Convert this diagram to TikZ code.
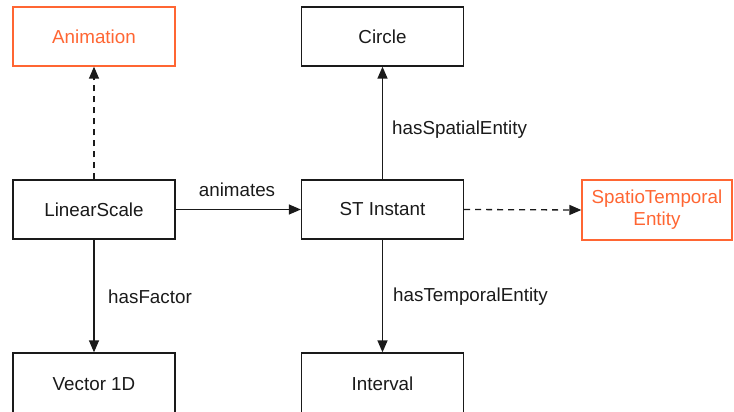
\documentclass[tikz,border=0pt]{standalone}
\usepackage{fontspec}
\setmainfont{Liberation Sans}
\usetikzlibrary{arrows.meta}
\definecolor{accent}{HTML}{FF6633}
\definecolor{ink}{HTML}{1A1A1A}
\tikzset{
  box/.style={draw=ink, fill=white, line width=1.3pt, minimum width=162pt,
    minimum height=59pt, inner sep=0pt, text=ink, font=\fontsize{18.8}{22}\selectfont,
    align=center},
  hlbox/.style={box, draw=accent, text=accent},
  link/.style={draw=ink, line width=1.3pt, -{Triangle[length=12pt,width=10pt]}},
  dashlink/.style={link, dash pattern=on 6pt off 5pt},
  lbl/.style={text=ink, font=\fontsize{18.8}{22}\selectfont, inner sep=0pt}
}
\begin{document}
\begin{tikzpicture}[x=1pt, y=-1pt]
  \useasboundingbox (0,0) rectangle (734,412);
  % class boxes
  \node[hlbox] (anim) at (94,36.5) {Animation};
  \node[box] (circle) at (382.5,36.5) {Circle};
  \node[box] (scale) at (94,209.5) {LinearScale};
  \node[box] (inst) at (382.5,209.5) {ST Instant};
  \node[hlbox, minimum width=150pt, minimum height=60pt] (ste) at (657,210) {SpatioTemporal\\Entity};
  \node[box, minimum height=62pt] (vec) at (94,384) {Vector 1D};
  \node[box, minimum height=62pt] (intv) at (382.5,384) {Interval};
  % relations
  \draw[dashlink] (scale.north) -- (anim.south);
  \draw[link] (inst.north) -- (circle.south);
  \draw[link] (scale.east) -- (inst.west);
  \draw[dashlink] (inst.east) -- (ste.west);
  \draw[link] (scale.south) -- (vec.north);
  \draw[link] (inst.south) -- (intv.north);
  % relation labels
  \node[lbl] (lanim) at (237,190) {animates};
  \node[lbl, anchor=west] (lspat) at (392,130) {hasSpatialEntity};
  \node[lbl, anchor=west] (lfac) at (108,297) {hasFactor};
  \node[lbl, anchor=west] (ltemp) at (393,297) {hasTemporalEntity};
\end{tikzpicture}
\end{document}
